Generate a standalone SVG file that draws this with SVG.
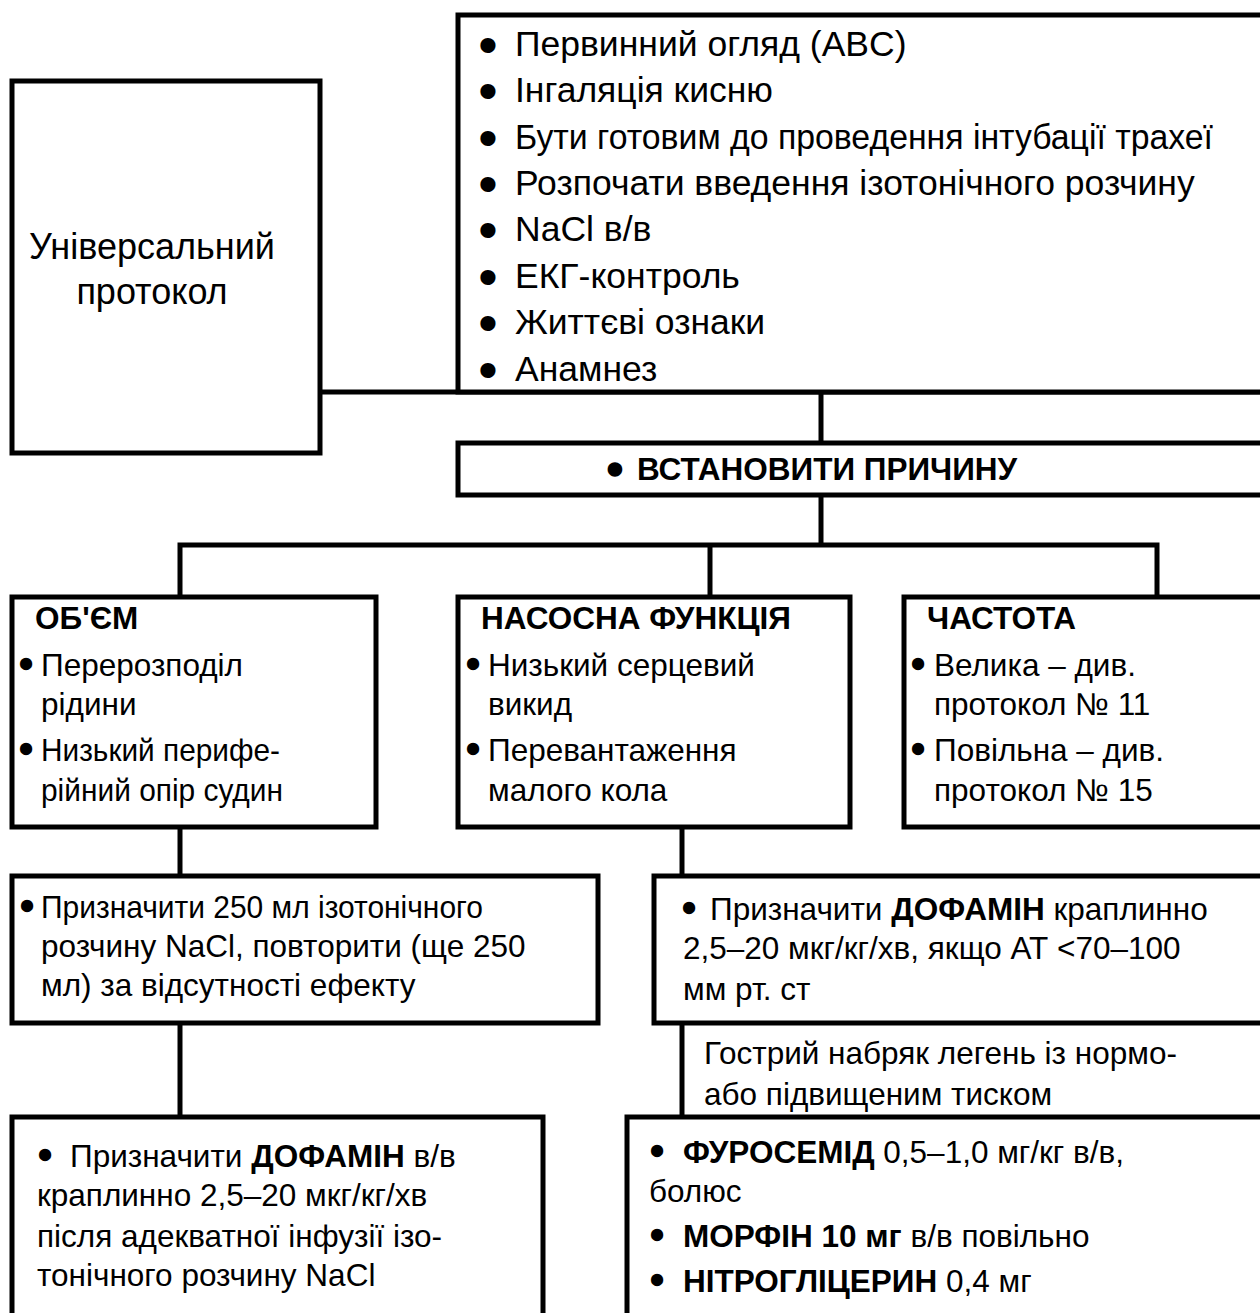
<svg xmlns="http://www.w3.org/2000/svg" width="1260" height="1313" viewBox="0 0 1260 1313">
<style>
.box{fill:#fff;stroke:#000;stroke-width:5}
.ln{stroke:#000;stroke-width:5;fill:none}
text{font-family:"Liberation Sans",Arial,sans-serif;fill:#000}
.t{font-size:35.5px}
.u{font-size:36px}
.m{font-size:31.5px}
.b{font-weight:bold}
.bt{font-size:41px;text-anchor:middle;stroke:#000;stroke-width:4;stroke-linejoin:round}
.bm{font-size:36px;text-anchor:middle;stroke:#000;stroke-width:2.5;stroke-linejoin:round}
</style>
<rect width="1260" height="1313" fill="#fff"/>
<g id="connectors">
<line class="ln" x1="320" y1="392" x2="1262" y2="392"/>
<line class="ln" x1="821" y1="392" x2="821" y2="443"/>
<line class="ln" x1="821" y1="495" x2="821" y2="545"/>
<polyline class="ln" points="180,597 180,545 1157,545 1157,597"/>
<line class="ln" x1="710" y1="545" x2="710" y2="597"/>
<line class="ln" x1="180" y1="827" x2="180" y2="876"/>
<line class="ln" x1="180" y1="1023" x2="180" y2="1117"/>
<line class="ln" x1="682" y1="827" x2="682" y2="876"/>
<line class="ln" x1="682" y1="1023" x2="682" y2="1117"/>
</g>
<g id="universal">
<rect class="box" x="12" y="81" width="308" height="372"/>
<text class="u" x="152" y="259" text-anchor="middle">Універсальний</text>
<text class="u" x="152" y="304" text-anchor="middle">протокол</text>
</g>
<g id="primary">
<rect class="box" x="458" y="15" width="810" height="377"/>
<g class="t">
<text class="bt" x="488" y="58.5">•</text><text x="515" y="56">Первинний огляд (ABC)</text>
<text class="bt" x="488" y="104.5">•</text><text x="515" y="102">Інгаляція кисню</text>
<text class="bt" x="488" y="151.5">•</text><text x="515" y="149" textLength="698" lengthAdjust="spacingAndGlyphs">Бути готовим до проведення інтубації трахеї</text>
<text class="bt" x="488" y="197.5">•</text><text x="515" y="195">Розпочати введення ізотонічного розчину</text>
<text class="bt" x="488" y="243.5">•</text><text x="515" y="241">NaCl в/в</text>
<text class="bt" x="488" y="290.5">•</text><text x="515" y="288">ЕКГ-контроль</text>
<text class="bt" x="488" y="336.5">•</text><text x="515" y="334">Життєві ознаки</text>
<text class="bt" x="488" y="383.5">•</text><text x="515" y="381">Анамнез</text>
</g>
</g>
<g id="cause">
<rect class="box" x="458" y="443" width="810" height="52"/>
<text class="bt" x="615" y="482.5" style="stroke-width:3.5">•</text>
<text class="m b" x="637" y="480">ВСТАНОВИТИ ПРИЧИНУ</text>
</g>
<g id="volume">
<rect class="box" x="12" y="597" width="364" height="230"/>
<g class="m">
<text class="b" x="35" y="629">ОБ'ЄМ</text>
<text class="bm" x="26" y="676">•</text><text x="41" y="676">Перерозподіл</text>
<text x="41" y="715">рідини</text>
<text class="bm" x="26" y="761">•</text><text x="41" y="761" textLength="239" lengthAdjust="spacingAndGlyphs">Низький перифе-</text>
<text x="41" y="801" textLength="242" lengthAdjust="spacingAndGlyphs">рійний опір судин</text>
</g>
</g>
<g id="pump">
<rect class="box" x="458" y="597" width="392" height="230"/>
<g class="m">
<text class="b" x="481" y="629">НАСОСНА ФУНКЦІЯ</text>
<text class="bm" x="473" y="676">•</text><text x="488" y="676">Низький серцевий</text>
<text x="488" y="715">викид</text>
<text class="bm" x="473" y="761">•</text><text x="488" y="761">Перевантаження</text>
<text x="488" y="801">малого кола</text>
</g>
</g>
<g id="rate">
<rect class="box" x="904" y="597" width="364" height="230"/>
<g class="m">
<text class="b" x="927" y="629">ЧАСТОТА</text>
<text class="bm" x="918" y="676">•</text><text x="934" y="676">Велика – див.</text>
<text x="934" y="715">протокол № 11</text>
<text class="bm" x="918" y="761">•</text><text x="934" y="761">Повільна – див.</text>
<text x="934" y="801">протокол № 15</text>
</g>
</g>
<g id="saline">
<rect class="box" x="12" y="876" width="586" height="147"/>
<g class="m">
<text class="bm" x="27" y="918">•</text><text x="41" y="918" textLength="442" lengthAdjust="spacingAndGlyphs">Призначити 250 мл ізотонічного</text>
<text x="41" y="957">розчину NaCl, повторити (ще 250</text>
<text x="41" y="996">мл) за відсутності ефекту</text>
</g>
</g>
<g id="dopamine-right">
<rect class="box" x="654" y="876" width="614" height="147"/>
<g class="m">
<text class="bm" x="689" y="920">•</text><text x="710" y="920">Призначити <tspan class="b">ДОФАМІН</tspan> краплинно</text>
<text x="683" y="959">2,5–20 мкг/кг/хв, якщо АТ &lt;70–100</text>
<text x="683" y="1000">мм рт. ст</text>
</g>
</g>
<g id="edema-label">
<text class="m" x="704" y="1064">Гострий набряк легень із нормо-</text>
<text class="m" x="704" y="1105">або підвищеним тиском</text>
</g>
<g id="dopamine-left">
<rect class="box" x="12" y="1117" width="531" height="210"/>
<g class="m">
<text class="bm" x="45" y="1167">•</text><text x="70" y="1167">Призначити <tspan class="b">ДОФАМІН</tspan> в/в</text>
<text x="37" y="1206">краплинно 2,5–20 мкг/кг/хв</text>
<text x="37" y="1247">після адекватної інфузії ізо-</text>
<text x="37" y="1286">тонічного розчину NaCl</text>
</g>
</g>
<g id="edema-treatment">
<rect class="box" x="627" y="1117" width="641" height="210"/>
<g class="m">
<text class="bm" x="657" y="1163">•</text><text x="683" y="1163"><tspan class="b">ФУРОСЕМІД</tspan> 0,5–1,0 мг/кг в/в,</text>
<text x="649" y="1202">болюс</text>
<text class="bm" x="657" y="1247">•</text><text x="683" y="1247"><tspan class="b">МОРФІН 10 мг</tspan> в/в повільно</text>
<text class="bm" x="657" y="1292">•</text><text x="683" y="1292"><tspan class="b">НІТРОГЛІЦЕРИН</tspan> 0,4 мг</text>
</g>
</g>
</svg>
